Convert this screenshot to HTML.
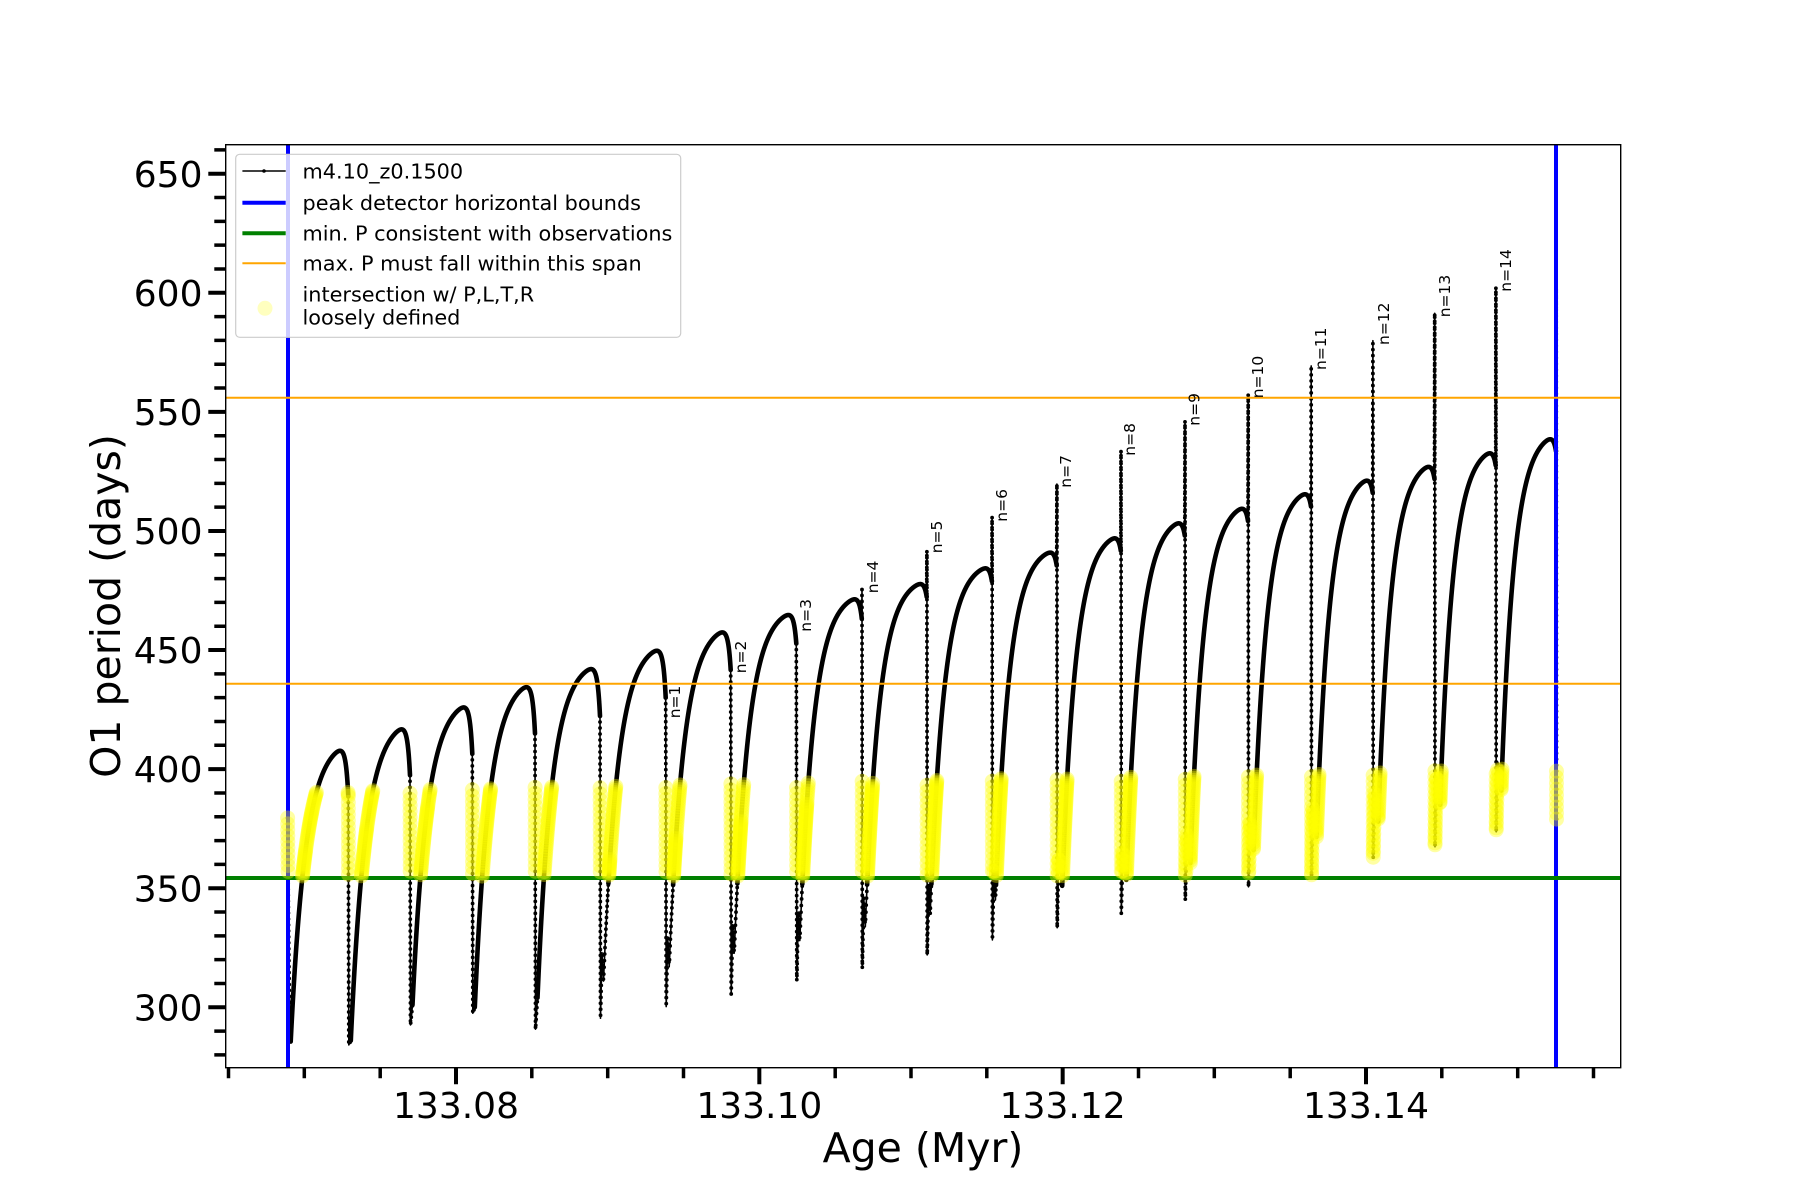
<!DOCTYPE html>
<html>
<head>
<meta charset="utf-8">
<style>
html,body{margin:0;padding:0;background:#fff;}
svg{display:block;}
text{font-family:"DejaVu Sans","Liberation Sans",sans-serif;fill:#000;}
</style>
</head>
<body>
<svg id="s" xmlns="http://www.w3.org/2000/svg" width="1800" height="1200" viewBox="0 0 1800 1200">
<rect x="0" y="0" width="1800" height="1200" fill="#fff"/>
<defs>
<clipPath id="ax"><rect x="225.7" y="144.7" width="1395" height="923"/></clipPath>
</defs>
<g clip-path="url(#ax)">
  <g id="black"></g>
  <line x1="288" y1="144.7" x2="288" y2="1067.7" stroke="#0000ff" stroke-width="4"/>
  <line x1="1556" y1="144.7" x2="1556" y2="1067.7" stroke="#0000ff" stroke-width="4"/>
  <line x1="225.7" y1="878" x2="1620.7" y2="878" stroke="#008000" stroke-width="4"/>
  <line x1="225.7" y1="683.7" x2="1620.7" y2="683.7" stroke="#ffa500" stroke-width="2"/>
  <line x1="225.7" y1="397.7" x2="1620.7" y2="397.7" stroke="#ffa500" stroke-width="2"/>
  <g id="yel"></g>
</g>
<rect x="225.7" y="144.7" width="1395" height="923" fill="none" stroke="#000" stroke-width="1.4"/>
<path d="M208.3 1007.3H225.7M208.3 888.22H225.7M208.3 769.13H225.7M208.3 650.05H225.7M208.3 530.96H225.7M208.3 411.88H225.7M208.3 292.79H225.7M208.3 173.71H225.7" stroke="#000" stroke-width="4" fill="none"/>
<path d="M214.3 1054.93H225.7M214.3 1031.12H225.7M214.3 983.48H225.7M214.3 959.67H225.7M214.3 935.85H225.7M214.3 912.03H225.7M214.3 864.4H225.7M214.3 840.58H225.7M214.3 816.76H225.7M214.3 792.95H225.7M214.3 745.31H225.7M214.3 721.5H225.7M214.3 697.68H225.7M214.3 673.86H225.7M214.3 626.23H225.7M214.3 602.41H225.7M214.3 578.59H225.7M214.3 554.78H225.7M214.3 507.14H225.7M214.3 483.33H225.7M214.3 459.51H225.7M214.3 435.69H225.7M214.3 388.06H225.7M214.3 364.24H225.7M214.3 340.43H225.7M214.3 316.61H225.7M214.3 268.97H225.7M214.3 245.16H225.7M214.3 221.34H225.7M214.3 197.52H225.7M214.3 149.89H225.7" stroke="#000" stroke-width="3.5" fill="none"/>
<path d="M456 1067.7V1084.3M759.33 1067.7V1084.3M1062.67 1067.7V1084.3M1366 1067.7V1084.3" stroke="#000" stroke-width="4" fill="none"/>
<path d="M228.5 1067.7V1078.3M304.3 1067.7V1078.3M380.2 1067.7V1078.3M531.8 1067.7V1078.3M607.7 1067.7V1078.3M683.5 1067.7V1078.3M835.2 1067.7V1078.3M911 1067.7V1078.3M986.8 1067.7V1078.3M1138.5 1067.7V1078.3M1214.3 1067.7V1078.3M1290.2 1067.7V1078.3M1441.8 1067.7V1078.3M1517.7 1067.7V1078.3M1593.5 1067.7V1078.3" stroke="#000" stroke-width="3.5" fill="none"/>
<g font-size="36" text-anchor="end">
<text x="202.5" y="186.8">650</text>
<text x="202.5" y="305.9">600</text>
<text x="202.5" y="425">550</text>
<text x="202.5" y="544.1">500</text>
<text x="202.5" y="663.2">450</text>
<text x="202.5" y="782.2">400</text>
<text x="202.5" y="901.3">350</text>
<text x="202.5" y="1020.4">300</text>
</g>
<g font-size="36" text-anchor="middle">
<text x="456" y="1118">133.08</text>
<text x="759.33" y="1118">133.10</text>
<text x="1062.67" y="1118">133.12</text>
<text x="1366" y="1118">133.14</text>
</g>
<text x="923" y="1162" font-size="41" text-anchor="middle">Age (Myr)</text>
<text transform="translate(120,606) rotate(-90)" font-size="41" text-anchor="middle">O1 period (days)</text>
<g font-size="15.5">
<text transform="translate(680,718.3) rotate(-90)">n=1</text>
<text transform="translate(746,673.3) rotate(-90)">n=2</text>
<text transform="translate(811,631.7) rotate(-90)">n=3</text>
<text transform="translate(878,593.3) rotate(-90)">n=4</text>
<text transform="translate(942,553.3) rotate(-90)">n=5</text>
<text transform="translate(1007,521.7) rotate(-90)">n=6</text>
<text transform="translate(1071,487.7) rotate(-90)">n=7</text>
<text transform="translate(1135,455.7) rotate(-90)">n=8</text>
<text transform="translate(1199.5,425.7) rotate(-90)">n=9</text>
<text transform="translate(1263,398.3) rotate(-90)">n=10</text>
<text transform="translate(1326,370) rotate(-90)">n=11</text>
<text transform="translate(1389,345) rotate(-90)">n=12</text>
<text transform="translate(1450,317.3) rotate(-90)">n=13</text>
<text transform="translate(1511,291.7) rotate(-90)">n=14</text>
</g>
<rect x="235.7" y="154.3" width="445" height="183" rx="4" ry="4" fill="#fff" fill-opacity="0.8" stroke="#cccccc" stroke-width="1.2"/>
<line x1="242.4" y1="171" x2="285.7" y2="171" stroke="#000" stroke-width="1.5"/>
<circle cx="264" cy="171" r="1.8" fill="#000"/>
<line x1="242.4" y1="202.7" x2="285.7" y2="202.7" stroke="#0000ff" stroke-width="4"/>
<line x1="242.4" y1="233.3" x2="285.7" y2="233.3" stroke="#008000" stroke-width="4"/>
<line x1="242.4" y1="263.3" x2="285.7" y2="263.3" stroke="#ffa500" stroke-width="2"/>
<circle cx="265" cy="308.3" r="7.5" fill="#ffff00" fill-opacity="0.25"/>
<g font-size="20.8">
<text x="302.5" y="178.3">m4.10_z0.1500</text>
<text x="302.5" y="209.8">peak detector horizontal bounds</text>
<text x="302.5" y="240.5">min. P consistent with observations</text>
<text x="302.5" y="270.5">max. P must fall within this span</text>
<text x="302.5" y="301.5">intersection w/ P,L,T,R</text>
<text x="302.5" y="324.5">loosely defined</text>
</g>
</svg>
<script>
(function(){
var NS='http://www.w3.org/2000/svg';
function Y(v){return 1007.3-(v-300)*2.3817;}
function V(y){return 300+(1007.3-y)/2.3817;}
var D=[288,348.3,410,472.3,535,600,665.7,730.7,796.3,861.8,926.7,991.9,1056.7,1120.8,1184.8,1248,1311,1372.7,1434.5,1495.7,1556];
var P=[407.7,416.7,425.9,434.4,442,449.7,457.4,464.7,471.3,477.7,484.3,490.9,496.9,503.2,509.3,515.4,521.1,526.9,532.6,538.5];
var M1=[285.6,284.2,292.6,297.5,290.8,295.4,300.3,305.6,311.2,316.4,322,328.3,333.4,339.5,345,350.6,354.8,362.6,367.4,373.7,378.6];
var M2=[285.6,286,301,300,304,311,317,322.7,328,333.8,339.5,345,351,353.5,360.6,366,371.6,378,385,391];
var S={9:475.4,10:491.7,11:506,12:519.7,13:533.7,14:546.2,15:557.4,16:569.3,17:579.9,18:591.4,19:602.3,20:602};
function U(j){return 390.5+0.5*j;}
var all=[],thick=[],dots=[],yel=[];
function addSparse(verts,j){
  var acc=0;
  for(var s=0;s<verts.length;s++){
    var x=verts[s][0],v=verts[s][1];
    if(s>0){
      var X1=verts[s-1][0],Y1=Y(verts[s-1][1]),X2=x,Y2=Y(v);
      var len=Math.hypot(X2-X1,Y2-Y1);
      var n=Math.max(1,Math.ceil(len));
      for(var q=1;q<=n;q++){
        var tt=q/n,xx=X1+(X2-X1)*tt,yy=Y1+(Y2-Y1)*tt;
        acc+=len/n;
        if(acc>=5.5){acc=0;dots.push([xx,yy]);var vv=V(yy);if(vv>=355&&vv<=U(j))yel.push([xx,yy]);}
      }
    }
    all.push([x,Y(v)]);
  }
}
function addDense(pts,j,cond){
  var acc=0,prev=null,run=null,accD=0;
  for(var a=0;a<pts.length;a++){
    var x=pts[a][0],v=pts[a][1],yy=Y(v);
    all.push([x,yy]);
    var d=prev?Math.hypot(x-prev[0],yy-prev[1]):0;
    acc+=d;accD+=d;
    var th=cond(v);
    if(th){if(!run){run=[];thick.push(run);if(prev)run.push(prev);}run.push([x,yy]);}else run=null;
    var sp=th?1.5:4;
    if(acc>=sp){acc=0;if(v>=355&&v<=U(j))yel.push([x,yy]);}
    if(!th&&accD>=5){accD=0;dots.push([x,yy]);}
    prev=[x,yy];
  }
}
addSparse([[287.6,382],[288.4,340],[289.3,305],[290.7,285.6]],0);
var lastV=0;
for(var i=0;i<20;i++){
  var x0=(i==0)?290.7:D[i]+(i<5?2.5:(i<12?3.5:5.5));
  if(i>0){
    var j=i,verts=[[D[i],lastV]];
    if(S[j])verts.push([D[i]+0.2,S[j]]);
    verts.push([D[i]+0.5,M1[j]]);
    if(i>=5)verts.push([D[i]+2,Math.max(M1[j],M2[i])+12]);
    verts.push([x0,M2[i]]);
    addSparse(verts,j);
  }
  var L=D[i+1]-x0,tau=15-0.1*i,jj=i+1;
  var B=jj<=6?22:(jj==7?18:(jj==8?14:(jj==9?10:7))),dl=2.5,m=M2[i];
  var k=P[i]-m;
  var f=function(t){return 1-Math.exp(-t/tau);};
  var g=function(t){return B*Math.exp((t-L)/dl);};
  for(var it=0;it<6;it++){
    var mx=-1e9;
    for(var t=0;t<=L;t+=0.25){var vv=m+k*f(t)-g(t);if(vv>mx)mx=vv;}
    k+=P[i]-mx;
  }
  var pts=[],steps=Math.round(L/0.1);
  for(var q=0;q<=steps;q++){var t2=L*q/steps;pts.push([x0+t2,m+k*f(t2)-g(t2)]);}
  lastV=pts[pts.length-1][1];
  var thr=(i<5)?-1e9:352;
  addDense(pts,i,function(v){return v>=thr;});
}
addSparse([[1556,lastV],[1556.2,602],[1556.5,378.6]],20);

var gB=document.getElementById('black'),gY=document.getElementById('yel');
function pstr(arr){var s='';for(var a=0;a<arr.length;a++){s+=(a?'L':'M')+arr[a][0].toFixed(2)+' '+arr[a][1].toFixed(2);}return s;}
var p=document.createElementNS(NS,'path');
p.setAttribute('d',pstr(all));p.setAttribute('fill','none');p.setAttribute('stroke','#000');
p.setAttribute('stroke-width','1.6');p.setAttribute('stroke-linejoin','round');
gB.appendChild(p);
for(var r=0;r<thick.length;r++){
  if(thick[r].length<2)continue;
  var tp=document.createElementNS(NS,'path');
  tp.setAttribute('d',pstr(thick[r]));tp.setAttribute('fill','none');tp.setAttribute('stroke','#000');
  tp.setAttribute('stroke-width','4.6');tp.setAttribute('stroke-linejoin','round');tp.setAttribute('stroke-linecap','round');
  gB.appendChild(tp);
}
var ds='';
for(var a=0;a<dots.length;a++){var x=dots[a][0],y=dots[a][1];ds+='M'+(x-1.9).toFixed(2)+' '+y.toFixed(2)+'a1.9 1.9 0 1 0 3.8 0a1.9 1.9 0 1 0 -3.8 0';}
var dp=document.createElementNS(NS,'path');dp.setAttribute('d',ds);dp.setAttribute('fill','#000');gB.appendChild(dp);
for(var b=0;b<yel.length;b++){
  var c=document.createElementNS(NS,'circle');
  c.setAttribute('cx',yel[b][0].toFixed(2));c.setAttribute('cy',yel[b][1].toFixed(2));
  c.setAttribute('r','7.5');c.setAttribute('fill','#ffff00');c.setAttribute('fill-opacity','0.36');
  gY.appendChild(c);
}
})();
</script>
</body>
</html>
